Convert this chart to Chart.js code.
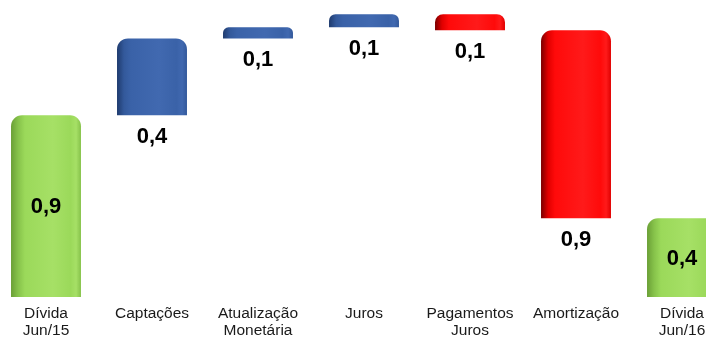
<!DOCTYPE html>
<html>
<head>
<meta charset="utf-8">
<script src="https://cdn.jsdelivr.net/npm/chart.js@4/dist/chart.umd.min.js"></script>
<style>
  html, body { margin: 0; padding: 0; background: #fff; overflow: hidden; }
  #wrap { position: absolute; left: -7px; top: 0; width: 742px; height: 340px; }
</style>
</head>
<body>
<div id="wrap"><canvas id="c"></canvas></div>
<script>
// Categories of the debt bridge (R$ bilhões)
const categories = [
  ['Dívida', 'Jun/15'],
  'Captações',
  ['Atualização', 'Monetária'],
  'Juros',
  ['Pagamentos', 'Juros'],
  'Amortização',
  ['Dívida', 'Jun/16']
];
// Opening and closing balances
const openingDebt = 0.90;
const closingDebt = 0.39;
// Movements between the two balances (positive = increase, negative = decrease)
const movements = [0.38, 0.055, 0.065, -0.08, -0.93];
// Bar kind per category: total, increase, decrease
const kinds = ['total', 'up', 'up', 'up', 'down', 'down', 'total'];

const palette = {
  total: { dark: '#6a9f36', main: '#9bd95a', light: '#a6e066', edge: '#86c24a' },
  up:    { dark: '#1f3b6e', main: '#3a62a8', light: '#4169b0', edge: '#33599b' },
  down:  { dark: '#7a0000', main: '#ff0a0a', light: '#ff1a1a', edge: '#e00000' }
};

// Build floating [start, end] ranges and the values printed on each bar
const ranges = [];
const shown = [];
ranges.push([0, openingDebt]); shown.push(openingDebt);
let level = openingDebt;
movements.forEach(m => { ranges.push([level, level + m]); shown.push(m); level += m; });
ranges.push([0, closingDebt]); shown.push(closingDebt);

const fmt = v => Math.abs(v).toFixed(1).replace('.', ',');

// Draws the value on each bar: inside totals, under the movement bars
const valueLabels = {
  id: 'valueLabels',
  afterDatasetsDraw(chart) {
    const ctx = chart.ctx;
    const meta = chart.getDatasetMeta(0);
    ctx.save();
    ctx.font = 'bold 22px "Liberation Sans", Arial, sans-serif';
    ctx.fillStyle = '#000';
    ctx.textAlign = 'center';
    ctx.textBaseline = 'middle';
    meta.data.forEach((bar, i) => {
      const p = bar.getProps(['x', 'y', 'base'], true);
      const top = Math.min(p.y, p.base), bottom = Math.max(p.y, p.base);
      const y = kinds[i] === 'total' ? (top + bottom) / 2 + 1 : bottom + 22;
      ctx.fillText(fmt(shown[i]), p.x, y);
    });
    ctx.restore();
  }
};

function barFill(context) {
  const chart = context.chart;
  const p = palette[kinds[context.dataIndex]];
  const xs = chart.scales && chart.scales.x;
  if (!xs) return p.main;
  const cx = xs.getPixelForValue(context.dataIndex);
  const half = (xs.right - xs.left) / categories.length * 0.66 / 2;
  if (!isFinite(cx) || !isFinite(half) || half <= 0) return p.main;
  const g = chart.ctx.createLinearGradient(cx - half, 0, cx + half, 0);
  g.addColorStop(0, p.dark);
  g.addColorStop(0.10, p.edge);
  g.addColorStop(0.2, p.main);
  g.addColorStop(0.6, p.light);
  g.addColorStop(0.85, p.main);
  g.addColorStop(0.93, p.light);
  g.addColorStop(1, p.edge);
  return g;
}

const chart = new Chart(document.getElementById('c'), {
  type: 'bar',
  data: {
    labels: categories,
    datasets: [{
      data: ranges,
      backgroundColor: barFill,
      borderWidth: 0,
      borderSkipped: false,
      borderRadius: { topLeft: 11, topRight: 11, bottomLeft: 0, bottomRight: 0 },
      barPercentage: 0.66,
      categoryPercentage: 1
    }]
  },
  options: {
    responsive: true,
    maintainAspectRatio: false,
    animation: false,
    layout: { padding: 0 },
    plugins: { legend: { display: false }, tooltip: { enabled: false } },
    scales: {
      x: {
        grid: { display: false, drawTicks: false },
        border: { display: false },
        ticks: {
          color: '#1a1a1a',
          padding: 8,
          maxRotation: 0,
          autoSkip: false,
          font: { family: '"Liberation Sans", Arial, sans-serif', size: 15.5, lineHeight: 1.1 }
        },
        afterFit(scale) { scale.height = 43; }
      },
      y: {
        display: false,
        min: 0,
        max: 1.47
      }
    }
  },
  plugins: [valueLabels]
});
// Re-resolve the fills once the scales have their final size
chart.update('none');
</script>
</body>
</html>
